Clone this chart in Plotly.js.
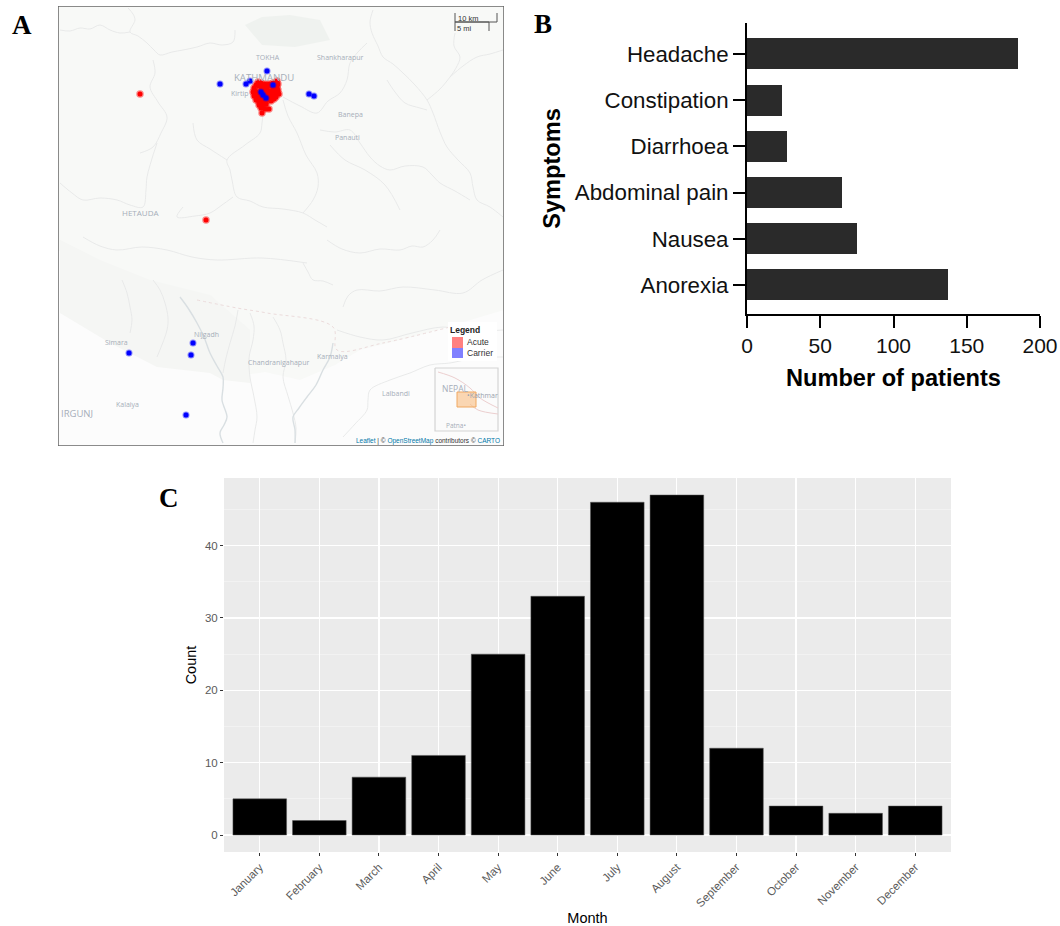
<!DOCTYPE html>
<html><head><meta charset="utf-8">
<script src="https://cdn.plot.ly/plotly-3.0.1.min.js"></script>
<style>html,body{margin:0;padding:0;background:#fff}#g{width:1060px;height:926px}</style>
</head><body><div id="g"></div>
<script>
// Panel B
const symptoms = ['Anorexia','Nausea','Abdominal pain','Diarrhoea','Constipation','Headache'];
const patients = [137,75,65,27,24,185];
// Panel C
const months = ['January','February','March','April','May','June','July','August','September','October','November','December'];
const counts = [5,2,8,11,25,33,46,47,12,4,3,4];
// Panel A: case locations
const acuteX = [140,206,253,254,254,256,256,256,258,259,259,259,261,261,261,262,263,263,263,265,265,265,266,267,267,267,269,269,269,271,271,271,273,273,273,275,275,277,277,277,278,278,261,262,269,265,259,265,255,257,260,271,274,276,279];
const acuteY = [94,220,92,88,96,85,92,100,82,86,94,102,83,90,98,105,86,94,101,84,90,97,104,87,93,100,84,91,97,86,93,99,83,90,96,88,94,81,87,92,90,84,108,113,109,109,105,104,91,97,99,101,99,97,94];
const carrierX = [220,246,250,267,273,309,314,261,263,266,129,193,191,186];
const carrierY = [84,84,81,71,85,94,96,92,95,98,353,343,355,415];
// Panel A: base map roads and rivers
const roads = [
 [[128,133,135,130,138,147,154,160,172,183,197,210,222,233,235],[8,14,20,32,36,43,50,55,52,50,47,43,45,42,30]],
 [[60,70,80,90,100,110,120,130],[30,31,28,29,25,30,33,32]],
 [[373,370,372,378,383,393,403,415,427,433,440,447,458,470,473,477,490,503],[10,22,33,46,57,64,73,85,100,113,132,147,160,173,187,200,207,217]],
 [[427,440,450,456,460,454,455],[100,89,77,68,57,46,33]],
 [[450,463,477,490,503],[77,66,57,54,50]],
 [[263,262,260,245,227,230,232,237,250,263,283,303,315,327],[113,123,133,145,160,170,180,197,201,207,209,213,220,227]],
 [[283,288,297,306,317,318,313,303],[100,116,133,155,173,187,200,213]],
 [[283,300,317,328,340,347,350,358,367],[97,106,113,101,93,80,63,52,43]],
 [[320,335,350,360,370,380,390,405,423,432,440,455,470],[130,132,130,143,157,166,170,166,167,175,183,191,200]],
 [[140,153,161,167,158,150,155,153],[153,147,133,117,102,87,73,60]],
 [[193,197,210,227],[123,140,149,160]],
 [[60,72,83,100,117,130,143,146,147,157],[183,193,200,198,200,205,207,190,177,143]],
 [[183,177,195,210,222,233],[207,217,216,213,205,197]],
 [[387,395,405,420,427],[80,92,103,108,110]],
 [[330,345,365,385,400],[145,160,170,185,210]],
 [[153,160,165,168,167,157],[280,290,303,318,330,357]],
 [[122,127,130,132,130],[280,293,307,320,333]],
 [[238,235,230,226,223],[310,326,343,358,373]],
 [[250,254,253,249,250,254,257,255,253],[313,326,340,358,377,397,417,430,443]],
 [[273,280,283,286,283,288,293,296,295],[317,330,343,360,377,396,413,428,443]],
 [[503,475,450,430,410,390,370,368,367,355,343],[357,358,363,365,373,380,390,400,410,424,437]],
 [[303,308,313,323,333],[263,272,280,281,285]],
 [[327,342,360,380,400,412,423,433,440],[240,249,253,249,250,246,247,240,230]],
 [[343,348,357,380,403,435,463,482,503],[307,296,290,291,287,290,293,280,270]],
 [[337,360,383,412,443,470,503],[330,337,340,333,327,331,330]],
 [[83,100,117,142,167,192,217,262,307],[237,246,250,247,250,257,260,258,263]]
];
const rivers = [
 [[180,188,197,204,210,217,223,223,222,227,224,220,223],[297,308,323,337,353,366,377,388,400,417,425,433,443]],
 [[333,330,323,316,307,299,293,295,295],[343,357,370,385,397,408,417,430,443]]
];
const borderX = [197,237,267,333,337,383,450];
const borderY = [300,308,313,327,350,343,327];
const lowlandX = [58,90,125,170,225,265,300,335,360,420,504,504,58];
const lowlandY = [250,270,310,350,378,372,380,365,350,335,310,6,6];
const terraiX = [60,83,110,157,210,223,250,250,210,150,100,60];
const terraiY = [313,327,343,367,373,380,383,330,295,280,260,240];
const hillX = [245,262,290,320,330,295,262,245];
const hillY = [25,17,15,20,40,47,45,25];
const insetRoadX = [438,455,470,480,498];
const insetRoadY = [372,378,388,398,408];
const insetRoad2X = [470,478,498];
const insetRoad2Y = [404,410,414];
const placeNames = ['TOKHA','Shankharapur','Kirtip','Banepa','Panauti','HETAUDA','Nijgadh','Simara','Chandranigahapur','Karmaiya','Kalaiya','Lalbandi'];
const placeX = [268,340,239,350,347,140,206,116,278,332,127,396];
const placeY = [57,57,93,114,137,212,334,342,362,356,404,393];

const W=1060,H=926;
const dx=(a,b)=>[a/W,b/W], dy=(t,b)=>[1-b/H,1-t/H];
const traces=[];
const line=(x,y,c,w,dash)=>traces.push({type:'scatter',mode:'lines',x,y,xaxis:'x',yaxis:'y',hoverinfo:'skip',showlegend:false,line:{color:c,width:w,dash:dash||'solid',shape:'spline'}});
const fill=(x,y,c)=>traces.push({type:'scatter',mode:'lines',x,y,xaxis:'x',yaxis:'y',fill:'toself',fillcolor:c,hoverinfo:'skip',showlegend:false,line:{width:0,color:c}});
const card=(x,y,c)=>traces.push({type:'scatter',mode:'lines',x,y,xaxis:'x',yaxis:'y',hoverinfo:'skip',showlegend:false,line:{width:c.w,color:c.c}});
fill(lowlandX,lowlandY,'#f8f9f7');
fill(terraiX,terraiY,'#f5f6f4');
fill(hillX,hillY,'#eff2ef');
roads.forEach(r=>line(r[0],r[1],'#e6e8e8',0.9));
rivers.forEach(r=>line(r[0],r[1],'#d9dfe2',1.4));
line(borderX,borderY,'#ecdcdc',1,'dot');
traces.push({type:'scatter',mode:'markers',name:'Acute',x:acuteX,y:acuteY,xaxis:'x',yaxis:'y',showlegend:false,marker:{size:5,color:'rgb(255,0,0)',line:{color:'rgba(255,0,0,0.45)',width:2.5}}});
traces.push({type:'scatter',mode:'markers',name:'Carrier',x:carrierX,y:carrierY,xaxis:'x',yaxis:'y',showlegend:false,marker:{size:5,color:'rgb(0,0,255)',line:{color:'rgba(0,0,255,0.45)',width:2}}});
// legend card and inset card
fill([448,497,497,448,448],[322,322,361,361,322],'#ffffff');
fill([435,498,498,435,435],[368,368,431,431,368],'#fbfbfb');
card([435,498,498,435,435],[368,368,431,431,368],{c:'#d4d4d4',w:1.2});
line(insetRoadX,insetRoadY,'#eccfcf',1);
line(insetRoad2X,insetRoad2Y,'#eccfcf',1);

traces.push({type:'bar',orientation:'h',y:symptoms,x:patients,xaxis:'x2',yaxis:'y2',width:0.67,showlegend:false,marker:{color:'#2a2a2a',line:{width:0}}});
traces.push({type:'bar',x:months,y:counts,xaxis:'x3',yaxis:'y3',width:0.9,showlegend:false,marker:{color:'#000',line:{color:'#555',width:0.5}}});

const mapNote=(text,x,y,size,extra)=>Object.assign({xref:'x',yref:'y',x,y,text,showarrow:false,xanchor:'center',yanchor:'middle',font:{family:'"Open Sans",sans-serif',size,color:'#a6aeb9'}},extra||{});
const annotations=[
 {xref:'paper',yref:'paper',x:22/W,y:1-25/H,text:'<b>A</b>',showarrow:false,xanchor:'center',yanchor:'middle',font:{family:'"Liberation Serif",serif',size:27,color:'#000'}},
 {xref:'paper',yref:'paper',x:543/W,y:1-24/H,text:'<b>B</b>',showarrow:false,xanchor:'center',yanchor:'middle',font:{family:'"Liberation Serif",serif',size:27,color:'#000'}},
 {xref:'paper',yref:'paper',x:169/W,y:1-498/H,text:'<b>C</b>',showarrow:false,xanchor:'center',yanchor:'middle',font:{family:'"Liberation Serif",serif',size:27,color:'#000'}},
 mapNote('KATHMANDU',264,77,9.6),
 mapNote('IRGUNJ',77,413,9.5),
 mapNote('NEPAL',455,388,8.5),
 mapNote('•Kathmar',482,395,7,{font:{family:'"Open Sans",sans-serif',size:7,color:'#9aa2ad'}}),
 mapNote('Patna•',456,425,6.5),
 mapNote('10 km',468,18,7.5,{font:{family:'"Liberation Sans",sans-serif',size:7.5,color:'#333'}}),
 mapNote('5 mi',464,28,7.5,{font:{family:'"Liberation Sans",sans-serif',size:7.5,color:'#333'}}),
 mapNote('<b>Legend</b>',465,330,8.5,{font:{family:'"Liberation Sans",sans-serif',size:8.5,color:'#222'}}),
 mapNote('Acute',478,342,8.5,{font:{family:'"Liberation Sans",sans-serif',size:8.5,color:'#333'}}),
 mapNote('Carrier',480,353,8.5,{font:{family:'"Liberation Sans",sans-serif',size:8.5,color:'#333'}}),
 {xref:'x',yref:'y',x:502,y:441,xanchor:'right',yanchor:'middle',showarrow:false,text:'<span style="color:#0078a8">Leaflet</span> | © <span style="color:#0078a8">OpenStreetMap</span> contributors © <span style="color:#0078a8">CARTO</span>',font:{family:'"Liberation Sans",sans-serif',size:6.5,color:'#333'}}
];
placeNames.forEach((n,i)=>annotations.push(mapNote(n,placeX[i],placeY[i],n==='HETAUDA'?8:7)));

const shapes=[
 {type:'rect',xref:'paper',yref:'paper',x0:224/W,x1:951/W,y0:1-852/H,y1:1-478/H,fillcolor:'#ebebeb',line:{width:0},layer:'below'},
 {type:'rect',xref:'paper',yref:'paper',x0:58/W,x1:504/W,y0:1-446/H,y1:1-6/H,fillcolor:'#fcfcfc',line:{width:0},layer:'below'},
 {type:'rect',xref:'x',yref:'y',x0:58,x1:504,y0:446,y1:6,fillcolor:'rgba(0,0,0,0)',line:{color:'#666',width:1.5},layer:'above'},
 {type:'rect',xref:'x',yref:'y',x0:452,x1:463,y0:337,y1:348,fillcolor:'#ff8080',line:{width:0},layer:'above'},
 {type:'rect',xref:'x',yref:'y',x0:452,x1:463,y0:348,y1:358,fillcolor:'#8080ff',line:{width:0},layer:'above'},
 {type:'rect',xref:'x',yref:'y',x0:457,x1:476,y0:392,y1:407,fillcolor:'rgba(250,190,130,0.6)',line:{color:'#f0a860',width:1},layer:'above'},
 {type:'path',xref:'x',yref:'y',path:'M455,13 L455,22 L497,22 L497,13',fillcolor:'rgba(0,0,0,0)',line:{color:'#555',width:1},layer:'above'},
 {type:'path',xref:'x',yref:'y',path:'M455,31 L455,22 L489,22 L489,31',fillcolor:'rgba(0,0,0,0)',line:{color:'#555',width:1},layer:'above'}
];

const layout={
 width:W,height:H,margin:{l:0,r:0,t:0,b:0},paper_bgcolor:'#fff',plot_bgcolor:'rgba(0,0,0,0)',showlegend:false,bargap:0,
 font:{family:'"Liberation Sans",Arial,sans-serif'},
 annotations,shapes,
 xaxis:{domain:dx(58,504),range:[58,504],visible:false,fixedrange:true},
 yaxis:{domain:dy(6,446),range:[446,6],visible:false,fixedrange:true},
 xaxis2:{anchor:'y2',domain:dx(747,1040),range:[0,200],tickvals:[0,50,100,150,200],showgrid:false,zeroline:false,showline:true,linecolor:'#000',linewidth:2,ticks:'outside',ticklen:12,tickwidth:2,tickcolor:'#000',tickfont:{size:21,color:'#111'},
   title:{text:'<b>Number of patients</b>',standoff:13,font:{size:23.6,color:'#000'}}},
 yaxis2:{anchor:'x2',domain:dy(23,314),type:'category',range:[-0.63,5.67],showgrid:false,zeroline:false,showline:true,linecolor:'#000',linewidth:2,ticks:'outside',ticklen:12,tickwidth:2,tickcolor:'#000',tickfont:{size:22.3,color:'#111'},
   title:{text:'<b>Symptoms</b>',standoff:8,font:{size:23.6,color:'#000'}}},
 xaxis3:{anchor:'y3',domain:dx(224,951),type:'category',range:[-0.6,11.6],showline:false,zeroline:false,showgrid:true,gridcolor:'#fff',gridwidth:1.2,ticks:'outside',ticklen:3,tickwidth:1,tickcolor:'#333',tickangle:-45,tickfont:{size:11.5,color:'#5a5a5a'},
   title:{text:'Month',standoff:6,font:{size:14.5,color:'#000'}}},
 yaxis3:{anchor:'x3',domain:dy(478,852),range:[-2.35,49.35],tickvals:[0,10,20,30,40],showline:false,zeroline:false,showgrid:true,gridcolor:'#fff',gridwidth:1.2,ticks:'outside',ticklen:3,tickwidth:1,tickcolor:'#333',tickfont:{size:11.5,color:'#5a5a5a'},
   minor:{dtick:5,showgrid:true,gridcolor:'#f6f6f6',gridwidth:0.6,ticks:''},
   title:{text:'Count',standoff:4,font:{size:14.5,color:'#000'}}}
};
Plotly.newPlot('g',traces,layout,{displayModeBar:false,staticPlot:true});
</script></body></html>
